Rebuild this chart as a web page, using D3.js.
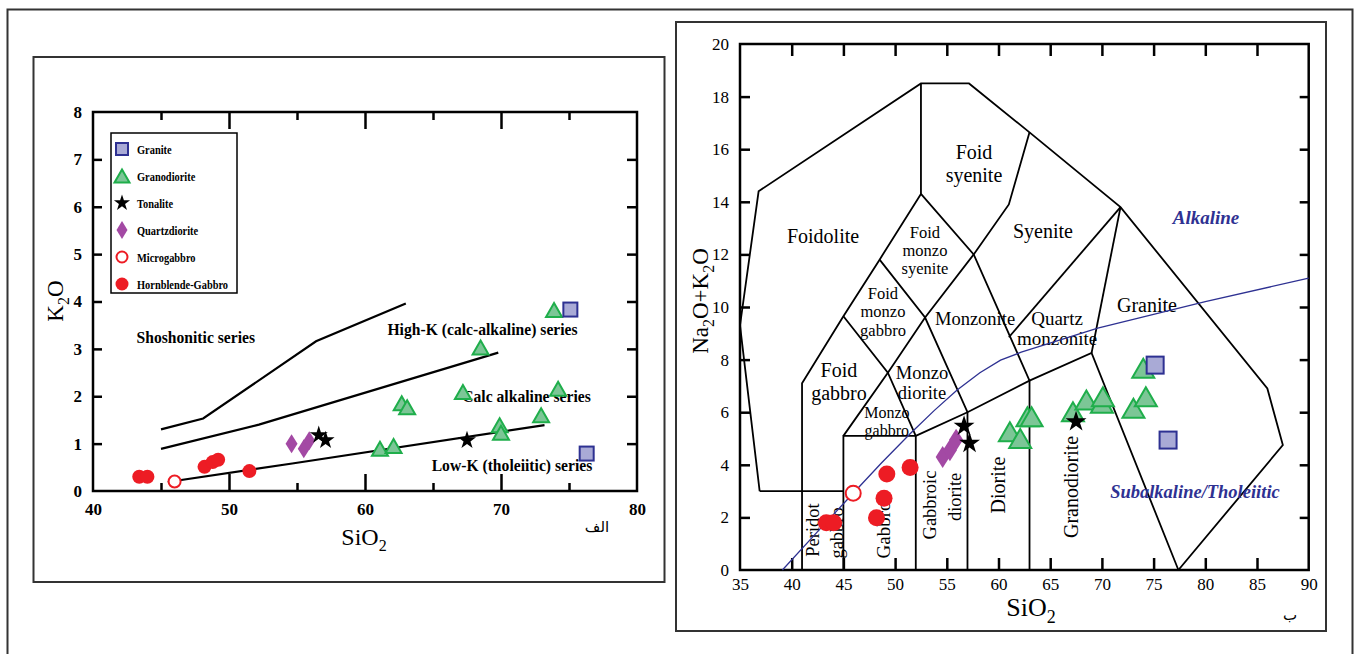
<!DOCTYPE html>
<html>
<head>
<meta charset="utf-8">
<script src="https://cdn.jsdelivr.net/npm/d3@7"></script>
<style>
body { margin: 0; background: #fff; }
svg { display: block; }
text { font-family: "Liberation Serif", "Times New Roman", serif; }
</style>
</head>
<body>
<script>
// ---- data: K2O vs SiO2 (left) ----
var seriesNames = ["Granite", "Granodiorite", "Tonalite", "Quartzdiorite", "Microgabbro", "Hornblende-Gabbro"];

var kGranite = [[75.1, 3.83], [76.3, 0.79]];
var kGranodiorite = [[73.9, 3.82], [68.5, 3.03], [67.2, 2.09], [74.2, 2.16], [62.7, 1.85], [63.1, 1.77],
                     [72.95, 1.6], [69.9, 1.39], [70.0, 1.23], [61.1, 0.89], [62.1, 0.95]];
var kTonalite = [[56.6, 1.18], [57.1, 1.07], [67.5, 1.07]];
var kQuartzdiorite = [[54.6, 1.0], [55.5, 0.89], [55.9, 1.06]];
var kMicrogabbro = [[46.0, 0.2]];
var kHbGabbro = [[43.4, 0.3], [44.0, 0.3], [48.2, 0.51], [48.8, 0.61], [49.2, 0.66], [51.5, 0.42]];

// series boundary lines
var kLineShoshonitic = [[45, 1.3], [48.1, 1.53], [56.4, 3.16], [63, 3.96]];
var kLineHighK = [[45, 0.89], [52.2, 1.4], [69.8, 2.92]];
var kLineLowK = [[45.5, 0.19], [54.65, 0.58], [73.2, 1.39]];

var kSeriesLabels = [
  {text: "Shoshonitic series", x: 43.2, y: 3.13},
  {text: "High-K (calc-alkaline) series", x: 61.65, y: 3.3},
  {text: "Calc alkaline series", x: 67.15, y: 1.88},
  {text: "Low-K (tholeiitic) series", x: 64.9, y: 0.42}
];

// ---- data: TAS (right) ----
var tasGranite = [[75.15, 7.79], [76.4, 4.94]];
var tasGranodiorite = [[61.1, 5.26], [62.1, 5.0], [62.8, 5.83], [63.2, 5.83], [67.2, 6.02], [68.5, 6.46],
                       [70.0, 6.34], [70.1, 6.59], [73.05, 6.15], [74.25, 6.59], [74.0, 7.67]];
var tasTonalite = [[56.67, 5.47], [57.2, 4.82], [67.5, 5.64]];
var tasQuartzdiorite = [[54.6, 4.3], [55.3, 4.55], [55.9, 4.95]];
var tasMicrogabbro = [[45.95, 2.92]];
var tasHbGabbro = [[43.35, 1.8], [44.06, 1.8], [48.2, 1.99], [48.93, 2.73], [49.2, 3.65], [51.45, 3.9]];

// field boundaries (Middlemost plutonic TAS)
var tasFields = [
  [[36.9, 3.0], [35, 9.3], [36.8, 14.4], [52.5, 18.5], [57.15, 18.5], [63.0, 16.64], [71.8, 13.8], [86.0, 6.9], [87.5, 4.75], [77.4, 0]],
  [[41, 0], [41, 7.1], [45, 9.65], [48.5, 11.8], [52.5, 14.3], [52.5, 18.5]],
  [[36.9, 3.0], [45, 3.0]],
  [[45, 0], [45, 5.1], [52, 5.1], [52, 0]],
  [[45, 5.1], [49.3, 7.5], [52.9, 9.6], [57.6, 12.0], [61.0, 13.9], [63.0, 16.64]],
  [[45, 9.65], [49.3, 7.5], [52, 5.1]],
  [[48.5, 11.8], [52.9, 9.6], [57, 6.0], [57, 0]],
  [[52.5, 14.3], [57.6, 12.0], [63, 7.2], [63, 0]],
  [[52, 5.1], [57, 6.0], [63, 7.2], [69, 8.25], [77.4, 0]],
  [[61.0, 8.85], [71.8, 13.8]],
  [[69, 8.25], [71.8, 13.8]]
];
var tasAlkalineLine = [[39.1, 0], [42.5, 1.46], [45.9, 2.9], [48.7, 4.08], [51.5, 5.2], [53.8, 6.07], [56, 6.84],
                       [58.2, 7.5], [60.2, 7.98], [62.2, 8.28], [69.6, 9.2], [80, 10.2], [90, 11.1]];

var tasLabels = [
  {t: "Foid", x: 57.63, y: 15.89, s: 20}, {t: "syenite", x: 57.63, y: 15.02, s: 20},
  {t: "Foidolite", x: 43.03, y: 12.7, s: 20},
  {t: "Foid", x: 52.89, y: 12.85, s: 16.5}, {t: "monzo", x: 52.89, y: 12.17, s: 16.5}, {t: "syenite", x: 52.89, y: 11.48, s: 16.5},
  {t: "Syenite", x: 64.3, y: 12.89, s: 20},
  {t: "Foid", x: 48.83, y: 10.53, s: 16.5}, {t: "monzo", x: 48.83, y: 9.85, s: 16.5}, {t: "gabbro", x: 48.83, y: 9.13, s: 16.5},
  {t: "Monzonite", x: 57.73, y: 9.58, s: 18.5},
  {t: "Quartz", x: 65.66, y: 9.58, s: 19}, {t: "monzonite", x: 65.66, y: 8.82, s: 19},
  {t: "Granite", x: 74.36, y: 10.08, s: 20},
  {t: "Foid", x: 44.57, y: 7.6, s: 20}, {t: "gabbro", x: 44.57, y: 6.73, s: 20},
  {t: "Monzo", x: 52.6, y: 7.49, s: 18.5}, {t: "diorite", x: 52.6, y: 6.73, s: 18.5},
  {t: "Monzo", x: 49.2, y: 6.0, s: 16}, {t: "gabbro", x: 49.2, y: 5.32, s: 16}
];
var tasVertLabels = [
  {t: "Peridot", x: 42.06, y: 1.52, s: 18.5}, {t: "gabbro", x: 44.38, y: 1.41, s: 18.5},
  {t: "Gabbro", x: 48.83, y: 1.52, s: 19},
  {t: "Gabbroic", x: 53.37, y: 2.47, s: 18.5}, {t: "diorite", x: 55.79, y: 2.78, s: 18.5},
  {t: "Diorite", x: 59.95, y: 3.23, s: 20},
  {t: "Granodiorite", x: 67.0, y: 3.16, s: 20}
];

var red = "#ed1c24", green = "#1fae4b", greenFill = "#7cc696", blue = "#2e3192", blueFill = "#a9aad6", purple = "#a349a4";

var svg = d3.select("body").append("svg")
    .attr("width", 1357)
    .attr("height", 654);

// frames
svg.append("rect").attr("x", 7.5).attr("y", 9.5).attr("width", 1345).attr("height", 700)
    .attr("fill", "none").attr("stroke", "#333").attr("stroke-width", 2);
svg.append("rect").attr("x", 33.5).attr("y", 57).attr("width", 631).attr("height", 525)
    .attr("fill", "none").attr("stroke", "#333").attr("stroke-width", 2);
svg.append("rect").attr("x", 676).attr("y", 22).attr("width", 650).attr("height", 609)
    .attr("fill", "none").attr("stroke", "#333").attr("stroke-width", 2);

// symbol helpers
function square(g, s, fill, stroke) {
  return g.append("rect").attr("x", -s / 2).attr("y", -s / 2).attr("width", s).attr("height", s)
    .attr("fill", fill).attr("stroke", stroke).attr("stroke-width", 2);
}
function triangle(g, w, h) {
  return g.append("path").attr("d", "M0," + (-h / 2) + "L" + (w / 2) + "," + (h / 2) + "L" + (-w / 2) + "," + (h / 2) + "Z")
    .attr("fill", greenFill).attr("stroke", green).attr("stroke-width", 2).attr("stroke-linejoin", "miter");
}
function star(g, r) {
  return g.append("path").attr("d", d3.symbol(d3.symbolStar, r * r / 0.8908)()).attr("fill", "#000");
}
function diamond(g, w, h) {
  return g.append("path").attr("d", "M0," + (-h / 2) + "L" + (w / 2) + ",0L0," + (h / 2) + "L" + (-w / 2) + ",0Z")
    .attr("fill", purple);
}
function circle(g, r, open) {
  return g.append("circle").attr("r", open ? r - 1 : r)
    .attr("fill", open ? "#fff" : red).attr("stroke", red).attr("stroke-width", open ? 2 : 0);
}

function drawPoints(layer, x, y, list, drawFn) {
  list.forEach(function(d) {
    var g = layer.append("g").attr("transform", "translate(" + x(d[0]) + "," + y(d[1]) + ")");
    drawFn(g);
  });
}

// ================= LEFT: K2O vs SiO2 =================
var xL = d3.scaleLinear().domain([40, 80]).range([93, 637]);
var yL = d3.scaleLinear().domain([0, 8]).range([491, 112]);
var left = svg.append("g");

function noDomain(g) { g.select(".domain").remove(); }

left.append("g").attr("transform", "translate(0,491)")
    .call(d3.axisBottom(xL).tickValues([50, 60, 70]).tickSize(-17).tickFormat("")).call(noDomain);
left.append("g").attr("transform", "translate(0,491)")
    .call(d3.axisBottom(xL).tickValues([45, 55, 65, 75]).tickSize(-8).tickFormat("")).call(noDomain);
left.append("g").attr("transform", "translate(0,112)")
    .call(d3.axisTop(xL).tickValues([50, 60, 70]).tickSize(-17).tickFormat("")).call(noDomain);
left.append("g").attr("transform", "translate(0,112)")
    .call(d3.axisTop(xL).tickValues([45, 55, 65, 75]).tickSize(-8).tickFormat("")).call(noDomain);
left.append("g").attr("transform", "translate(93,0)")
    .call(d3.axisLeft(yL).tickValues(d3.range(1, 8)).tickSize(-9).tickFormat("")).call(noDomain);
left.append("g").attr("transform", "translate(637,0)")
    .call(d3.axisRight(yL).tickValues(d3.range(1, 8)).tickSize(-10).tickFormat("")).call(noDomain);
left.selectAll(".tick line").attr("stroke", "#000").attr("stroke-width", 2.5);

var lxLab = left.append("g").attr("transform", "translate(0,491)")
    .call(d3.axisBottom(xL).tickValues([40, 50, 60, 70, 80]).tickSize(0).tickPadding(12).tickFormat(d3.format("d")))
    .call(noDomain);
var lyLab = left.append("g").attr("transform", "translate(93,0)")
    .call(d3.axisLeft(yL).tickValues(d3.range(0, 9)).tickSize(0).tickPadding(11).tickFormat(d3.format("d")))
    .call(noDomain);
[lxLab, lyLab].forEach(function(g) {
  g.selectAll("text").style("font-family", "Liberation Serif").style("font-weight", "bold")
    .style("font-size", "17px").attr("fill", "#000");
});

left.append("rect").attr("x", 93).attr("y", 112).attr("width", 544).attr("height", 379)
    .attr("fill", "none").attr("stroke", "#000").attr("stroke-width", 2.5);

var lineL = d3.line().x(function(d) { return xL(d[0]); }).y(function(d) { return yL(d[1]); });
[kLineShoshonitic, kLineHighK, kLineLowK].forEach(function(l) {
  left.append("path").attr("d", lineL(l)).attr("fill", "none").attr("stroke", "#000").attr("stroke-width", 2.2);
});

// slightly condensed bold serif, like the original
left.selectAll(".serieslab").data(kSeriesLabels).enter().append("text")
    .attr("transform", function(d) { return "translate(" + xL(d.x) + "," + yL(d.y) + ") scale(0.92,1)"; })
    .style("font-weight", "bold").style("font-size", "17px")
    .text(function(d) { return d.text; });

var ptsL = left.append("g");
drawPoints(ptsL, xL, yL, kGranodiorite, function(g) { triangle(g, 16, 14); });
drawPoints(ptsL, xL, yL, kGranite, function(g) { square(g, 14, blueFill, blue); });
drawPoints(ptsL, xL, yL, kQuartzdiorite, function(g) { diamond(g, 12, 19); });
drawPoints(ptsL, xL, yL, kTonalite, function(g) { star(g, 9.5); });
drawPoints(ptsL, xL, yL, kHbGabbro, function(g) { circle(g, 7, false); });
drawPoints(ptsL, xL, yL, kMicrogabbro, function(g) { circle(g, 7, true); });

// legend
var legend = left.append("g");
legend.append("rect").attr("x", 111).attr("y", 133).attr("width", 126).attr("height", 160)
    .attr("fill", "#fff").attr("stroke", "#000").attr("stroke-width", 1.5);
var legendDraw = [
  function(g) { square(g, 12, blueFill, blue); },
  function(g) { triangle(g, 15, 13); },
  function(g) { star(g, 8.5); },
  function(g) { diamond(g, 11, 18); },
  function(g) { circle(g, 6.5, true); },
  function(g) { circle(g, 6.5, false); }
];
seriesNames.forEach(function(name, i) {
  var gy = 149 + i * 27;
  var g = legend.append("g").attr("transform", "translate(122," + gy + ")");
  legendDraw[i](g);
  legend.append("text").attr("transform", "translate(137," + (gy + 4.5) + ") scale(0.8,1)")
      .style("font-weight", "bold").style("font-size", "13px").text(name);
});

// axis titles
var ts = left.append("text").attr("x", 364).attr("y", 545).attr("text-anchor", "middle").style("font-size", "24px");
ts.append("tspan").text("SiO");
ts.append("tspan").attr("dy", 6).style("font-size", "16px").text("2");

var tk = left.append("text").attr("transform", "translate(63,301) rotate(-90)").attr("text-anchor", "middle").style("font-size", "23px");
tk.append("tspan").text("K");
tk.append("tspan").attr("dy", 6).style("font-size", "16px").text("2");
tk.append("tspan").attr("dy", -6).text("O");

left.append("text").attr("x", 597).attr("y", 532).attr("text-anchor", "middle")
    .style("font-family", "DejaVu Sans").style("font-size", "15px").text("الف");

// ================= RIGHT: TAS =================
var xR = d3.scaleLinear().domain([35, 90]).range([740, 1308.7]);
var yR = d3.scaleLinear().domain([0, 20]).range([570, 44]);
var right = svg.append("g");

right.append("g").attr("transform", "translate(0,570)")
    .call(d3.axisBottom(xR).tickValues(d3.range(40, 90, 5)).tickSize(-12).tickFormat("")).call(noDomain);
right.append("g").attr("transform", "translate(0,44)")
    .call(d3.axisTop(xR).tickValues(d3.range(40, 90, 5)).tickSize(-12).tickFormat("")).call(noDomain);
right.append("g").attr("transform", "translate(740,0)")
    .call(d3.axisLeft(yR).tickValues(d3.range(2, 20, 2)).tickSize(-10).tickFormat("")).call(noDomain);
right.append("g").attr("transform", "translate(1308.7,0)")
    .call(d3.axisRight(yR).tickValues(d3.range(2, 20, 2)).tickSize(-9).tickFormat("")).call(noDomain);
right.selectAll(".tick line").attr("stroke", "#000").attr("stroke-width", 2.5);

var rxLab = right.append("g").attr("transform", "translate(0,570)")
    .call(d3.axisBottom(xR).tickValues(d3.range(35, 95, 5)).tickSize(0).tickPadding(8).tickFormat(d3.format("d")))
    .call(noDomain);
var ryLab = right.append("g").attr("transform", "translate(740,0)")
    .call(d3.axisLeft(yR).tickValues(d3.range(0, 22, 2)).tickSize(0).tickPadding(11).tickFormat(d3.format("d")))
    .call(noDomain);
[rxLab, ryLab].forEach(function(g) {
  g.selectAll("text").style("font-family", "Liberation Serif").style("font-size", "17px").attr("fill", "#000");
});

var lineR = d3.line().x(function(d) { return xR(d[0]); }).y(function(d) { return yR(d[1]); });
var fields = right.append("g");
tasFields.forEach(function(l) {
  fields.append("path").attr("d", lineR(l)).attr("fill", "none").attr("stroke", "#000")
      .attr("stroke-width", 1.8).attr("stroke-linejoin", "miter");
});

right.append("rect").attr("x", 740).attr("y", 44).attr("width", 568.7).attr("height", 526)
    .attr("fill", "none").attr("stroke", "#000").attr("stroke-width", 2.5);

right.selectAll(".flab").data(tasLabels).enter().append("text")
    .attr("x", function(d) { return xR(d.x); })
    .attr("y", function(d) { return yR(d.y); })
    .attr("dy", "0.35em").attr("text-anchor", "middle")
    .style("font-size", function(d) { return d.s + "px"; })
    .text(function(d) { return d.t; });

right.selectAll(".vlab").data(tasVertLabels).enter().append("text")
    .attr("transform", function(d) { return "translate(" + xR(d.x) + "," + yR(d.y) + ") rotate(-90)"; })
    .attr("dy", "0.35em").attr("text-anchor", "middle")
    .style("font-size", function(d) { return d.s + "px"; })
    .text(function(d) { return d.t; });

right.append("path").attr("d", lineR(tasAlkalineLine)).attr("fill", "none")
    .attr("stroke", blue).attr("stroke-width", 1.3);

right.append("text").attr("x", xR(80.07)).attr("y", yR(13.42)).attr("dy", "0.35em").attr("text-anchor", "middle")
    .style("font-weight", "bold").style("font-style", "italic").style("font-size", "19px").attr("fill", blue)
    .text("Alkaline");
right.append("text").attr("x", xR(79.0)).attr("y", yR(3.0)).attr("dy", "0.35em").attr("text-anchor", "middle")
    .style("font-weight", "bold").style("font-style", "italic").style("font-size", "18.5px").attr("fill", blue)
    .text("Subalkaline/Tholeiitic");

var ptsR = right.append("g");
drawPoints(ptsR, xR, yR, tasGranodiorite, function(g) { triangle(g, 22, 19); });
drawPoints(ptsR, xR, yR, tasGranite, function(g) { square(g, 17, blueFill, blue); });
drawPoints(ptsR, xR, yR, tasQuartzdiorite, function(g) { diamond(g, 14, 22); });
drawPoints(ptsR, xR, yR, tasTonalite, function(g) { star(g, 11); });
drawPoints(ptsR, xR, yR, tasHbGabbro, function(g) { circle(g, 8.5, false); });
drawPoints(ptsR, xR, yR, tasMicrogabbro, function(g) { circle(g, 8.5, true); });

var tr = right.append("text").attr("x", 1031).attr("y", 616).attr("text-anchor", "middle").style("font-size", "26px");
tr.append("tspan").text("SiO");
tr.append("tspan").attr("dy", 7).style("font-size", "18px").text("2");

var tn = right.append("text").attr("transform", "translate(708,301) rotate(-90)").attr("text-anchor", "middle").style("font-size", "23px");
tn.append("tspan").text("Na");
tn.append("tspan").attr("dy", 6).style("font-size", "16px").text("2");
tn.append("tspan").attr("dy", -6).text("O+K");
tn.append("tspan").attr("dy", 6).style("font-size", "16px").text("2");
tn.append("tspan").attr("dy", -6).text("O");

right.append("text").attr("x", 1290).attr("y", 620).attr("text-anchor", "middle")
    .style("font-family", "DejaVu Sans").style("font-size", "15px").text("ب");
</script>
</body>
</html>
